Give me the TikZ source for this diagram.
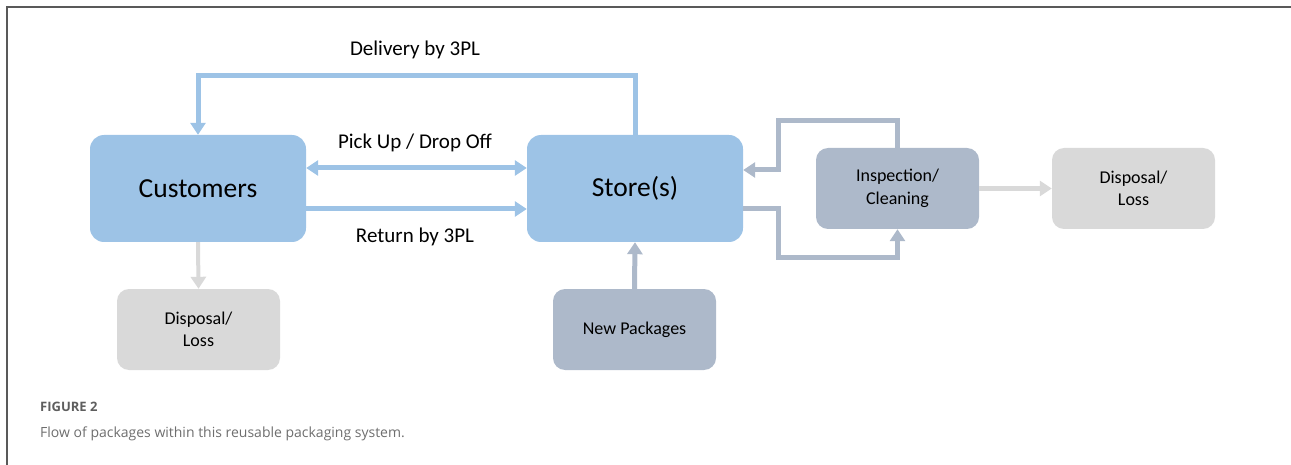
\documentclass[tikz,border=0pt]{standalone}
\usepackage{fontspec}
\setmainfont{Carlito}
\newfontfamily\capfont{Open Sans}
\usetikzlibrary{arrows.meta}
\definecolor{cblue}{HTML}{9DC3E6}
\definecolor{cslate}{HTML}{ADB9CA}
\definecolor{cgray}{HTML}{D9D9D9}
\definecolor{capgray}{HTML}{6E6E6E}
\begin{document}
\begin{tikzpicture}[x=1pt,y=-1pt,
  bigbox/.style={fill=cblue, rounded corners=14pt, minimum width=216pt, minimum height=107pt, inner sep=0pt, font=\fontsize{27.5}{32}\selectfont},
  smallbox/.style={rounded corners=12pt, minimum width=163pt, minimum height=81pt, inner sep=0pt, align=center, font=\fontsize{18}{22.5}\selectfont},
  lbl/.style={font=\fontsize{21}{25}\selectfont, inner sep=0pt},
  conn/.style={line width=5pt, -{Triangle[width=15pt,length=12pt]}},
]
\useasboundingbox (0,0) rectangle (1291,465);
\draw[color=black!65, line width=1.6pt] (7,465) -- (7,7) -- (1291,7);

\node[bigbox] (cust) at (198,188.5) {Customers};
\node[bigbox] (store) at (635,188.5) {Store(s)};
\node[smallbox, fill=cslate] (insp) at (897.5,188.5) {Inspection/\\Cleaning};
\node[smallbox, fill=cgray] (dispr) at (1133.5,188.5) {Disposal/\\Loss};
\node[smallbox, fill=cgray] (displ) at (198.5,329.5) {Disposal/\\Loss};
\node[smallbox, fill=cslate] (newp) at (634.5,329.5) {New Packages};

\node[lbl] (ldel) at (415,50) {Delivery by 3PL};
\node[lbl] (lpick) at (415,143) {Pick Up / Drop Off};
\node[lbl] (lret) at (415,237) {Return by 3PL};

\coordinate (dtop) at (0,76);
\draw[conn, cblue] (store.north) -- (store.north |- dtop) -- (cust.north |- dtop) -- (cust.north);
\draw[conn, cblue, {Triangle[width=15pt,length=12pt]}-{Triangle[width=15pt,length=12pt]}] ([yshift=20.5pt]cust.east) -- ([yshift=20.5pt]store.west);
\draw[conn, cblue] ([yshift=-20.5pt]cust.east) -- ([yshift=-20.5pt]store.west);

\coordinate (itop) at (778,121);
\coordinate (ibot) at (778,258);
\draw[conn, cslate] (insp.north) -- (insp.north |- itop) -- (itop) -- ([yshift=18.5pt]store.east -| itop) -- ([yshift=18.5pt]store.east);
\draw[conn, cslate] ([yshift=-20.5pt]store.east) -- ([yshift=-20.5pt]store.east -| ibot) -- (ibot) -- (insp.south |- ibot) -- (insp.south);
\draw[conn, cslate] (newp.north) -- (store.south);

\draw[conn, cgray] (insp.east) -- (dispr.west);
\draw[conn, cgray, line width=4pt] (cust.south) -- (displ.north);

\node[anchor=base west, inner sep=0pt, text=capgray!85!black, font=\capfont\bfseries\fontsize{13}{15}\selectfont] (fig) at (40,411) {FIGURE 2};
\node[anchor=base west, inner sep=0pt, text=capgray, font=\capfont\fontsize{14}{17}\selectfont] (cap) at (40,437) {Flow of packages within this reusable packaging system.};
\end{tikzpicture}
\end{document}
